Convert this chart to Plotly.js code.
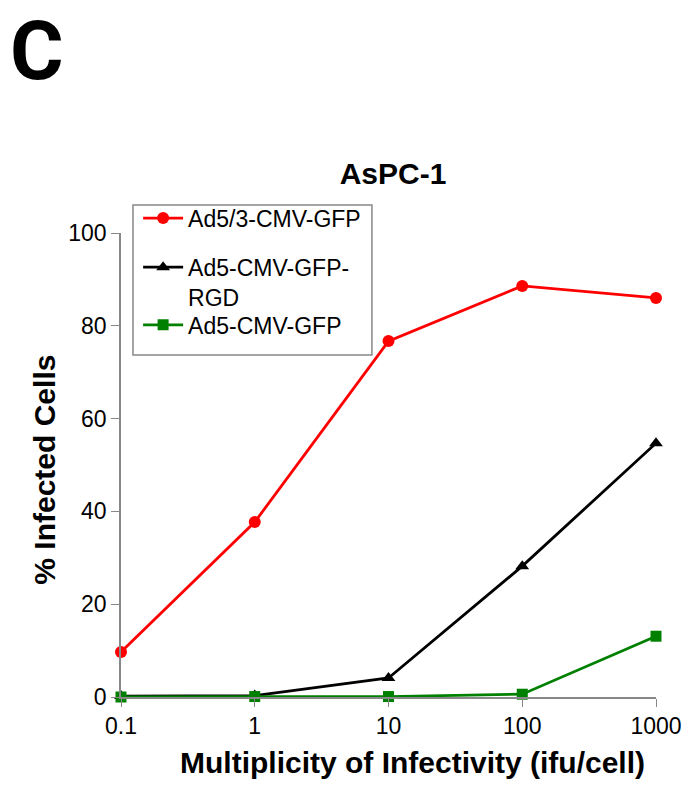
<!DOCTYPE html>
<html><head><meta charset="utf-8">
<script src="https://cdn.plot.ly/plotly-3.0.1.min.js"></script>
<style>body{margin:0;background:#fff}#chart{width:690px;height:795px}</style>
</head><body><div id="chart"></div>
<script>
const moi = [0.1, 1, 10, 100, 1000];
const tickLabels = ["0.1", "1", "10", "100", "1000"];
const ad53 = [9.7, 37.7, 76.7, 88.6, 86.0];
const ad5rgd = [0.2, 0.3, 4.1, 28.2, 54.7];
const ad5 = [0.0, 0.1, 0.1, 0.6, 13.1];
const names = ["Ad5/3-CMV-GFP", "Ad5-CMV-GFP-<br>RGD", "Ad5-CMV-GFP"];
const colors = ["#ff0000", "#000000", "#008000"];

const traces = [
  {x: moi, y: ad53, name: names[0], legend: "legend", mode: "lines+markers", line: {color: colors[0], width: 2.8}, marker: {symbol: "circle", size: 12, color: colors[0]}, cliponaxis: false},
  {x: moi, y: ad5rgd, name: names[1], legend: "legend2", mode: "lines+markers", line: {color: colors[1], width: 2.8}, marker: {symbol: "triangle-up", size: 12, color: colors[1]}, cliponaxis: false},
  {x: moi, y: ad5, name: names[2], legend: "legend3", mode: "lines+markers", line: {color: colors[2], width: 2.8}, marker: {symbol: "square", size: 11, color: colors[2]}, cliponaxis: false}
];

const legBase = {xanchor: "left", yanchor: "middle", borderwidth: 0, bgcolor: "rgba(0,0,0,0)", font: {size: 23}, itemwidth: 40, valign: "top"};
const tickFont = {size: 23};

const layout = {
  width: 690, height: 795,
  margin: {l: 121, r: 34, t: 233, b: 98},
  paper_bgcolor: "#fff", plot_bgcolor: "#fff",
  font: {family: "Liberation Sans, Arial, sans-serif", size: 23, color: "#000"},
  title: {text: "<b>AsPC-1</b>", x: 0.5696, xanchor: "center", y: 0.782, yanchor: "middle", font: {size: 30}},
  showlegend: true,
  legend: Object.assign({}, legBase, {x: 0.032, y: 1.032}),
  legend2: Object.assign({}, legBase, {x: 0.032, y: 0.894}),
  legend3: Object.assign({}, legBase, {x: 0.032, y: 0.802}),
  xaxis: {type: "log", range: [-1, 3], tickvals: moi, ticktext: tickLabels, tickfont: tickFont, showline: true, linecolor: "#888", linewidth: 1.5, ticks: "outside", ticklen: 8, tickcolor: "#888", showgrid: false, zeroline: false},
  yaxis: {range: [0, 100], dtick: 20, tickfont: tickFont, showline: true, linecolor: "#888", linewidth: 1.5, ticks: "outside", ticklen: 8, tickcolor: "#888", showgrid: false, zeroline: false},
  shapes: [{type: "rect", xref: "paper", yref: "paper", x0: 0.0224, x1: 0.469, y0: 0.737, y1: 1.0603, line: {color: "#888", width: 1.5}, fillcolor: "#fff", layer: "below"}],
  annotations: [
    {text: "<b>C</b>", xref: "paper", yref: "paper", x: -0.157, y: 1.5, xanchor: "center", yanchor: "top", showarrow: false, font: {family: "Roboto, sans-serif", size: 82, color: "#000"}},
    {text: "<b>Multiplicity of Infectivity (ifu/cell)</b>", xref: "paper", yref: "paper", x: 0.545, y: -0.142, xanchor: "center", yanchor: "middle", showarrow: false, font: {size: 30}},
    {text: "<b>% Infected Cells</b>", xref: "paper", yref: "paper", x: -0.142, y: 0.49, xanchor: "center", yanchor: "middle", textangle: -90, showarrow: false, font: {size: 30}}
  ]
};
Plotly.newPlot("chart", traces, layout, {displayModeBar: false});
</script></body></html>
